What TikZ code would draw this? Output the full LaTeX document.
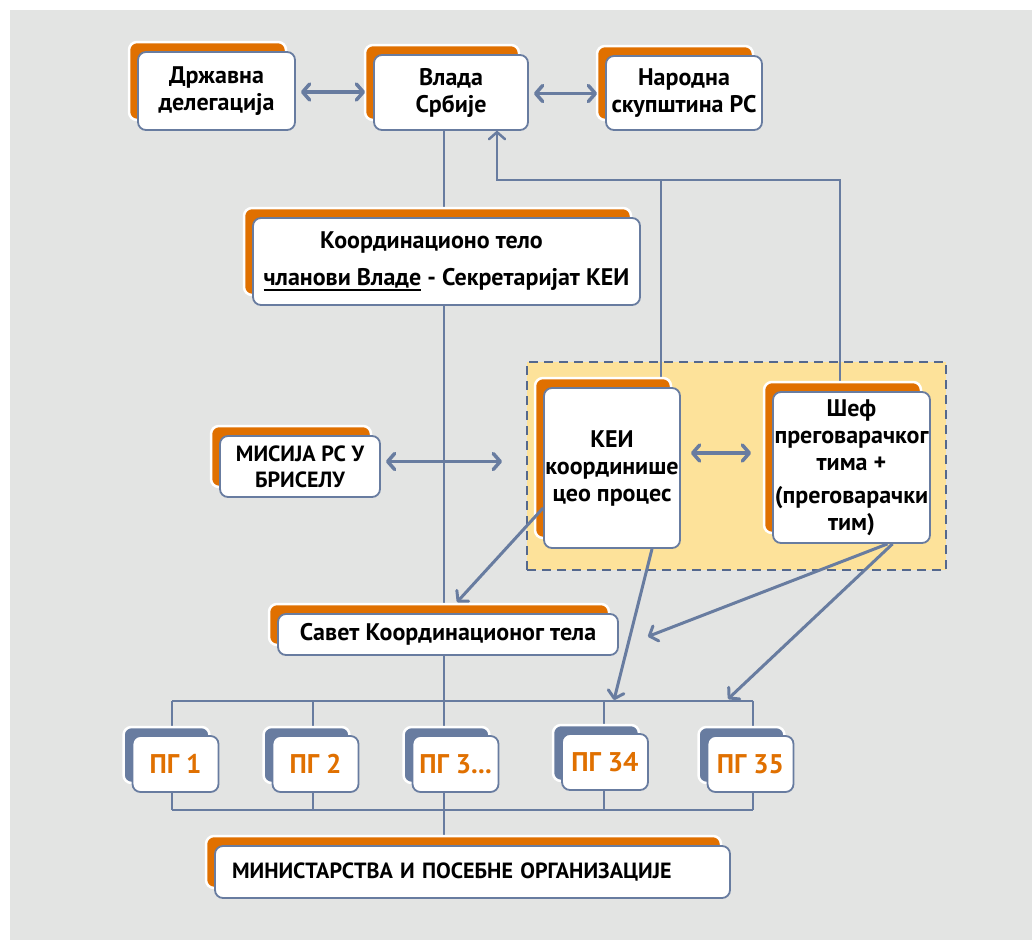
\documentclass[tikz,border=0pt]{standalone}
\usepackage{fontspec}
\setmainfont{PT Sans}
\usetikzlibrary{arrows.meta,shadows}
\definecolor{bggray}{RGB}{227,228,227}
\definecolor{lineblue}{RGB}{104,124,160}
\definecolor{dashblue}{RGB}{84,104,142}
\definecolor{orangeb}{RGB}{224,112,0}
\definecolor{yellowb}{RGB}{253,226,154}
\pgfdeclarelayer{back}
\pgfdeclarelayer{lines}
\pgfsetlayers{back,lines,main}
\newcommand{\ulbar}[1]{\setbox0\hbox{#1}\rlap{\rule[-5pt]{\wd0}{1.6pt}}\box0\relax}
\begin{document}
\begin{tikzpicture}[x=1pt,y=-1pt,
  font=\bfseries\fontsize{24pt}{27pt}\selectfont,
  capsfont/.style={font=\bfseries\fontsize{22pt}{26pt}\selectfont},
  box/.style={draw=lineblue, line width=1.8pt, fill=white, rounded corners=8pt, align=center, inner sep=0pt},
  obox/.style={box, copy shadow={shadow xshift=-9pt, shadow yshift=10pt, fill=orangeb, draw=white, line width=2.5pt}},
  pbox/.style={box, minimum width=86pt, minimum height=56pt, copy shadow={shadow xshift=-9pt, shadow yshift=9pt, fill=lineblue, draw=white, line width=2.5pt}, text=orangeb, font=\bfseries\fontsize{27pt}{30pt}\selectfont},
  group/.style={fill=yellowb, draw=dashblue, line width=2pt, dash pattern=on 9pt off 6pt, inner sep=0pt},
  conn/.style={draw=lineblue, line width=2pt},
  arr/.style={draw=lineblue, line width=3pt, -{Straight Barb[length=7pt,width=16pt,round]}},
  darr/.style={draw=lineblue, line width=3.5pt, {Straight Barb[length=7pt,width=16pt,round]}-{Straight Barb[length=7pt,width=16pt,round]}},
]
\useasboundingbox (0,0) rectangle (1032,940);
\begin{pgfonlayer}{back}
  \fill[bggray] (10,10) rectangle (1032,940);
\end{pgfonlayer}

% group of KEI and chief negotiator
\begin{pgfonlayer}{back}
  \node[group, minimum width=419pt, minimum height=208pt] (grp) at (736.5,466) {};
\end{pgfonlayer}

% boxes
\node[obox, minimum width=157pt, minimum height=78pt] (drz) at (216.5,91) {Државна\\делегација};
\node[obox, minimum width=154pt, minimum height=75pt] (vlada) at (451,92.5) {Влада\\Србије};
\node[obox, minimum width=156pt, minimum height=74pt] (nar) at (684,93) {Народна\\скупштина РС};
\node[obox, minimum width=387pt, minimum height=87pt] (koord) at (446.5,261.5)
  {Координационо тело\hspace*{30pt}\\[10pt]\ulbar{чланови Владе} - Секретаријат КЕИ};
\node[obox, capsfont, minimum width=160pt, minimum height=61pt] (mis) at (300,466.5) {МИСИЈА РС У\\БРИСЕЛУ};
\node[obox, minimum width=136pt, minimum height=160pt] (kei) at (612,468) {КЕИ\\координише\\цео процес};
\node[obox, minimum width=157pt, minimum height=151pt] (sef) at (851.5,467.5)
  {Шеф\\преговарачког\\тима +\\[6pt](преговарачки\\тим)};
\node[obox, minimum width=340pt, minimum height=41pt] (savet) at (448,634.5) {Савет Координационог тела};
\node[pbox] (pg1) at (175.5,764) {ПГ 1};
\node[pbox] (pg2) at (315.5,764) {ПГ 2};
\node[pbox] (pg3) at (455.5,764) {ПГ 3...};
\node[pbox] (pg34) at (605,762) {ПГ 34};
\node[pbox] (pg35) at (750.5,764) {ПГ 35};
\node[obox, capsfont, minimum width=515pt, minimum height=52pt, text width=481pt, align=left] (min) at (472.5,872)
  {МИНИСТАРСТВА И ПОСЕБНЕ ОРГАНИЗАЦИЈЕ};

% coordinates of the connector network
\coordinate (t1) at (444,701);
\coordinate (bl) at (172,701);
\coordinate (b2) at (313,701);
\coordinate (b34) at (604,701);
\coordinate (br) at (753,701);
\coordinate (bbl) at (172,810);
\coordinate (bb2) at (313,810);
\coordinate (bb34) at (604,810);
\coordinate (bbr) at (753,810);
\coordinate (jl) at (497,180);
\coordinate (jk) at (661,180);
\coordinate (js) at (840,180);
\coordinate (a34) at (614,700);
\coordinate (a35) at (728,699);

\begin{pgfonlayer}{lines}
  % trunk
  \draw[conn] (vlada.south -| t1) -- (min.north -| t1);
  % brackets around the negotiating groups
  \draw[conn] (bl) -- (br);
  \draw[conn] (bbl) -- (bbr);
  \draw[conn] (bl) -- (bbl);
  \draw[conn] (b2) -- (bb2);
  \draw[conn] (b34) -- (bb34);
  \draw[conn] (br) -- (bbr);
  % feedback to the government
  \draw[conn] (kei.north -| jk) -- (jk);
  \draw[conn] (sef.north -| js) -- (js) -- (jk);
  \draw[draw=lineblue, line width=2.5pt, -{Straight Barb[length=7pt,width=16pt,round]}] (jk) -- (jl) -- (vlada.south -| jl);
\end{pgfonlayer}

% double arrows
\draw[darr, shorten <=5pt, shorten >=8pt] ([yshift=-1pt]drz.east) -- ([yshift=-1pt]drz.east -| vlada.west);
\draw[darr, shorten <=5pt, shorten >=8pt] ([yshift=-1pt]vlada.east) -- ([yshift=-1pt]vlada.east -| nar.west);
\draw[darr, shorten <=5pt, shorten >=24pt] ([yshift=5pt]mis.east) -- ([yshift=5pt]mis.east -| grp.west);
\draw[darr, shorten <=10pt, shorten >=21pt] ([yshift=15pt]kei.east) -- ([yshift=15pt]kei.east -| sef.west);

% diagonal arrows
\draw[arr] ([yshift=-40pt]kei.west) -- ([xshift=9pt,yshift=11pt]savet.north);
\draw[arr] ([xshift=40pt]kei.south) -- (a34);
\draw[arr] ([xshift=36pt]sef.south) -- ([xshift=29pt,yshift=-2pt]savet.east);
\draw[arr] ([xshift=41pt]sef.south) -- (a35);
\end{tikzpicture}
\end{document}
